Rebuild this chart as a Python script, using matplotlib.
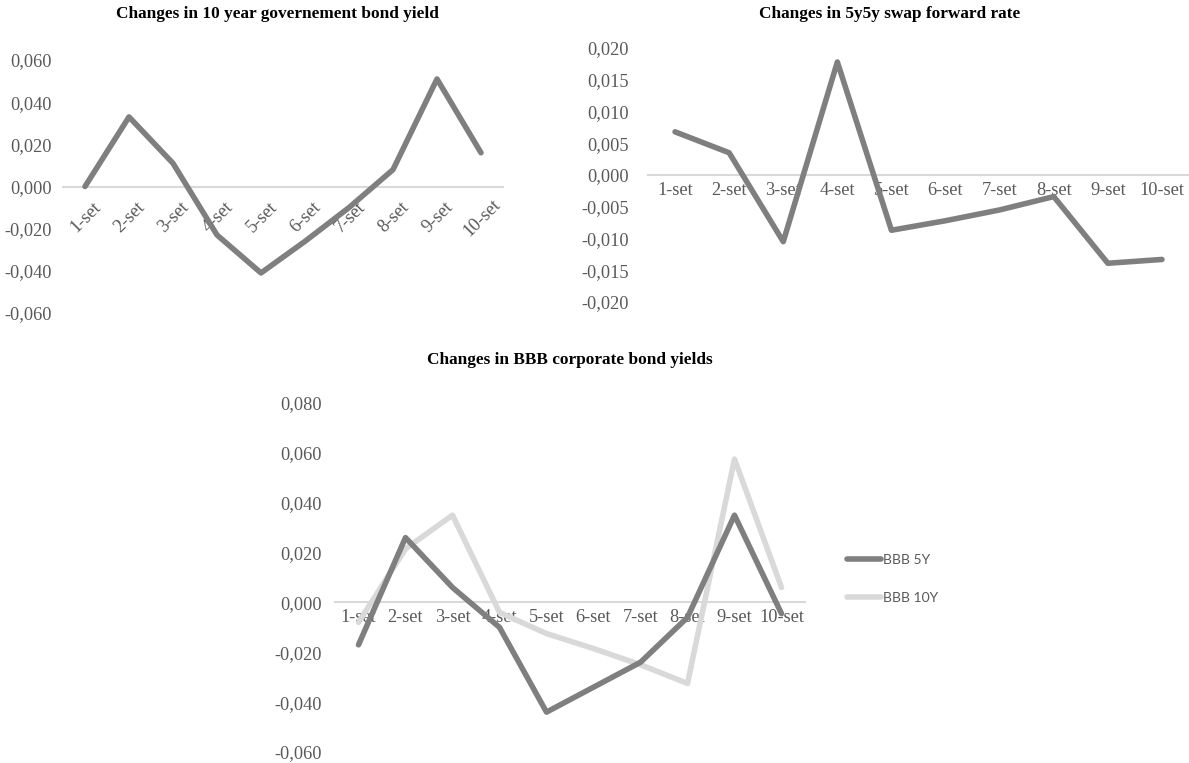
import matplotlib.pyplot as plt
import numpy as np
from matplotlib.ticker import FuncFormatter
from matplotlib.transforms import ScaledTranslation

# data
days = ['1-set', '2-set', '3-set', '4-set', '5-set', '6-set', '7-set', '8-set', '9-set', '10-set']
gov10y = [0.000, 0.033, 0.011, -0.023, -0.041, -0.026, -0.010, 0.008, 0.051, 0.016]
swap5y5y = [0.0068, 0.0035, -0.0105, 0.0178, -0.0087, -0.0072, -0.0055, -0.0034, -0.0139, -0.0133]
bbb5y = [-0.017, 0.026, 0.006, -0.010, -0.044, -0.034, -0.024, -0.006, 0.035, -0.0045]
bbb10y = [-0.008, 0.0215, 0.035, -0.004, -0.0125, -0.0185, -0.025, -0.0325, 0.0575, 0.006]

W, H = 1189, 763
DARK = '#7f7f7f'
LIGHT = '#d9d9d9'
TXT = '#595959'
SERIF = ['Liberation Serif', 'DejaVu Serif']

plt.rcParams['font.family'] = SERIF


def comma(v, pos):
    s = '%.3f' % v
    if s == '-0.000':
        s = '0.000'
    return s.replace('.', ',')


def make_ax(fig, x0, x1, y0, y1):
    # pixel box (from top-left) -> figure axes
    return fig.add_axes([x0 / W, 1 - y1 / H, (x1 - x0) / W, (y1 - y0) / H])


def style(ax, lo, hi, step, ypad, rot=0):
    x = np.arange(len(days))
    ax.set_xlim(-0.5, len(days) - 0.5)
    ax.set_ylim(lo, hi)
    ax.set_yticks(np.arange(lo, hi + step / 2, step))
    ax.yaxis.set_major_formatter(FuncFormatter(comma))
    ax.set_xticks(x)
    ax.set_xticklabels(days)
    for s in ['top', 'right', 'left']:
        ax.spines[s].set_visible(False)
    ax.spines['bottom'].set_position(('data', 0))
    ax.spines['bottom'].set_color(LIGHT)
    ax.spines['bottom'].set_linewidth(1.5)
    ax.tick_params(axis='both', length=0, labelsize=13.2, labelcolor=TXT)
    ax.tick_params(axis='y', pad=ypad)
    ax.tick_params(axis='x', pad=5)
    if rot:
        # rotated labels centred under their category, Excel style
        shift = ScaledTranslation(1 / 100, -24 / 100, ax.figure.dpi_scale_trans)
        for lab in ax.get_xticklabels():
            lab.set_rotation(rot)
            lab.set_ha('center')
            lab.set_va('center')
            lab.set_rotation_mode('anchor')
            lab.set_transform(lab.get_transform() + shift)
    ax.patch.set_alpha(0)


def line(ax, vals, color, label=None, z=3):
    ax.plot(range(len(days)), vals, color=color, lw=4.0, zorder=z,
            solid_capstyle='round', solid_joinstyle='round', label=label)


def title(fig, x, y, s):
    fig.text(x / W, 1 - y / H, s, ha='center', va='baseline',
             fontsize=12.4, fontweight='bold')


fig = plt.figure(figsize=(W / 100, H / 100), dpi=100)

# top left
ax1 = make_ax(fig, 63, 503, 60, 313)
line(ax1, gov10y, DARK)
style(ax1, -0.06, 0.06, 0.02, 8, rot=45)
title(fig, 277, 18, 'Changes in 10 year governement bond yield')

# top right
ax2 = make_ax(fig, 648, 1189, 48, 302)
line(ax2, swap5y5y, DARK)
style(ax2, -0.02, 0.02, 0.005, 14)
title(fig, 890, 18, 'Changes in 5y5y swap forward rate')

# bottom
ax3 = make_ax(fig, 335, 805, 403, 752)
line(ax3, bbb5y, DARK, 'BBB 5Y', 3)
line(ax3, bbb10y, LIGHT, 'BBB 10Y', 2)
style(ax3, -0.06, 0.08, 0.02, 9.4)
title(fig, 570, 364, 'Changes in BBB corporate bond yields')

leg = fig.legend(loc='center left', bbox_to_anchor=(834 / W, 1 - 579 / H),
                 frameon=False, handlelength=2.5, handletextpad=0.15,
                 labelspacing=1.9, prop={'family': 'Lato', 'size': 10})
for t in leg.get_texts():
    t.set_color(TXT)

fig.savefig('out.png', dpi=100)
